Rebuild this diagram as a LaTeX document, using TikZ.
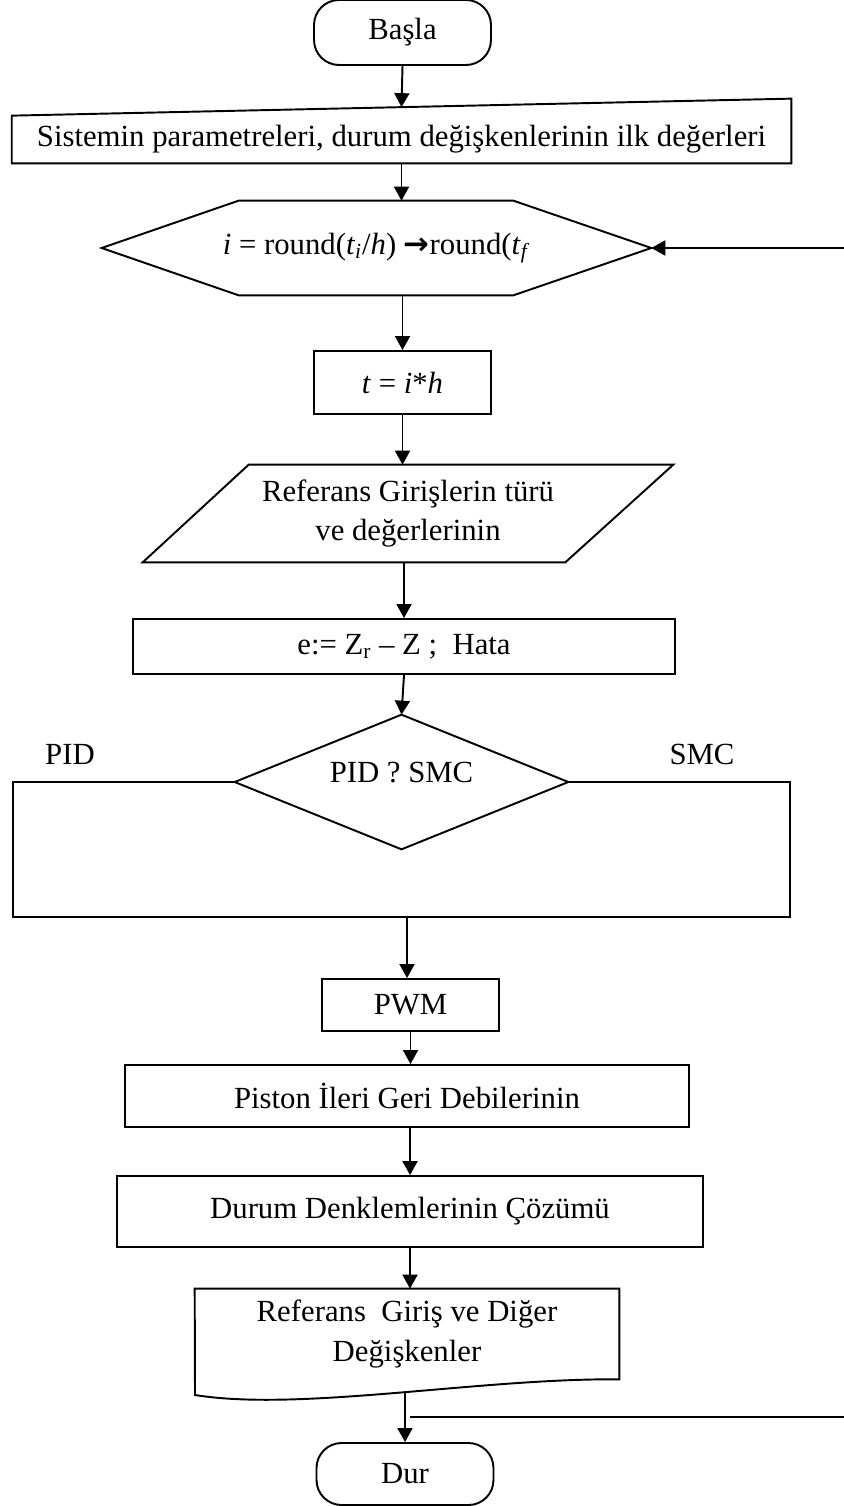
\documentclass[tikz,border=0pt]{standalone}
\usepackage{fontspec}
\setmainfont{Liberation Serif}
\newfontfamily\arrowfont{DejaVu Sans}
\usetikzlibrary{arrows.meta,positioning,calc}

\begin{document}
\begin{tikzpicture}[
  x=0.02cm, y=-0.02cm,
  every node/.style={font=\fontsize{17.5}{22.5}\selectfont},
  box/.style={draw, line width=1.1pt, inner sep=0pt, align=center},
  frame/.style={inner sep=0pt, align=center},
  term/.style={draw, line width=1.1pt, rounded corners=0.5cm, minimum width=3.54cm, minimum height=1.24cm},
  arr/.style={-{Triangle[length=0.28cm,width=0.3cm]}, line width=1.1pt},
  ln/.style={line width=1.1pt}
]
\useasboundingbox (0,0) rectangle (844,1506);

\node[term, minimum height=1.3cm] (basla) at (402.5,32.5) {\raisebox{-0.08cm}{Başla}};
\node[frame, minimum width=15.58cm, minimum height=0.94cm] (param) at (401.5,139.5) {Sistemin parametreleri, durum değişkenlerinin ilk değerleri};
\draw[ln] (param.south west) -- (param.north west) -- ([yshift=0.34cm]param.north east) -- (param.south east) -- cycle;

\node[frame, minimum width=10.98cm, minimum height=1.88cm] (hex) at (376.5,248) {\textit{i} = round(\textit{t}\textsubscript{\textit{i}}/\textit{h}) {\arrowfont\bfseries →}round(\textit{t}\textsubscript{\textit{f}}};
\draw[ln] (hex.west) -- ([xshift=2.74cm]hex.north west) -- ([xshift=-2.76cm]hex.north east) -- (hex.east) -- ([xshift=-2.76cm]hex.south east) -- ([xshift=2.74cm]hex.south west) -- cycle;

\node[box, minimum width=3.54cm, minimum height=1.26cm] (tbox) at (402.5,382.5) {\textit{t} = \textit{i}*\textit{h}};

\node[frame, minimum width=10.6cm, minimum height=1.94cm] (refin) at (408,513.5) {Referans Girişlerin türü\\ve değerlerinin};
\draw[ln] ([xshift=2.12cm]refin.north west) -- (refin.north east) -- ([xshift=-2.16cm]refin.south east) -- (refin.south west) -- cycle;

\node[box, minimum width=10.84cm, minimum height=1.1cm] (err) at (404,646.5) {e:= Z\textsubscript{r} – Z ;\ \ Hata};

% secim
\node[frame, minimum width=6.66cm, minimum height=2.68cm] (sel) at (401.5,782) {};
\draw[ln] (sel.north) -- (sel.east) -- (sel.south) -- (sel.west) -- cycle;
\node (seltext) at (401.5,773) {PID ? SMC};
\node (pid) at (70,754) {PID};
\node (smc) at (702,754) {SMC};
\coordinate (lft) at (13,917);
\coordinate (rgt) at (790,917);
\coordinate (merge) at (407,917);
\draw[ln] (sel.west) -| (lft) -- (rgt) |- (sel.east);

\node[box, minimum width=3.54cm, minimum height=1.04cm] (pwm) at (410.5,1005) {PWM};
\node[box, minimum width=11.28cm, minimum height=1.24cm] (piston) at (407,1096) {Piston İleri Geri Debilerinin};
\node[box, minimum width=11.72cm, minimum height=1.42cm] (durum) at (410,1211.5) {Durum Denklemlerinin Çözümü};

\node[frame, minimum width=8.48cm, minimum height=1.8cm] (out) at (407,1334) {Referans\ \ Giriş ve Diğer\\Değişkenler};
\draw[ln] (out.north west) -- (out.north east) -- (out.south east) .. controls (480,1378) and (300,1412) .. (195,1395) -- cycle;

\node[term] (dur) at (405,1474) {\raisebox{-0.06cm}{Dur}};

\coordinate (outb) at (405,1392);
\coordinate (loopa) at (410,1417);
\coordinate (loopb) at (870,1417);

\draw[arr] (basla.south) -- ([yshift=0.17cm]param.north);
\draw[arr] (param.south) -- (param.south |- hex.north);
\draw[arr] (tbox.north |- hex.south) -- (tbox.north);
\draw[arr] (tbox.south) -- (tbox.south |- refin.north);
\draw[arr] (err.north |- refin.south) -- (err.north);
\draw[arr] (err.south) -- (sel.north);
\draw[arr] (merge) -- (merge |- pwm.north);
\draw[arr] (pwm.south) -- (pwm.south |- piston.north);
\draw[arr] (durum.north |- piston.south) -- (durum.north);
\draw[arr] (durum.south) -- (durum.south |- out.north);
\draw[arr] (outb) -- (dur.north);
\draw[arr] (loopa) -- (loopb) |- (hex.east);
\end{tikzpicture}
\end{document}
